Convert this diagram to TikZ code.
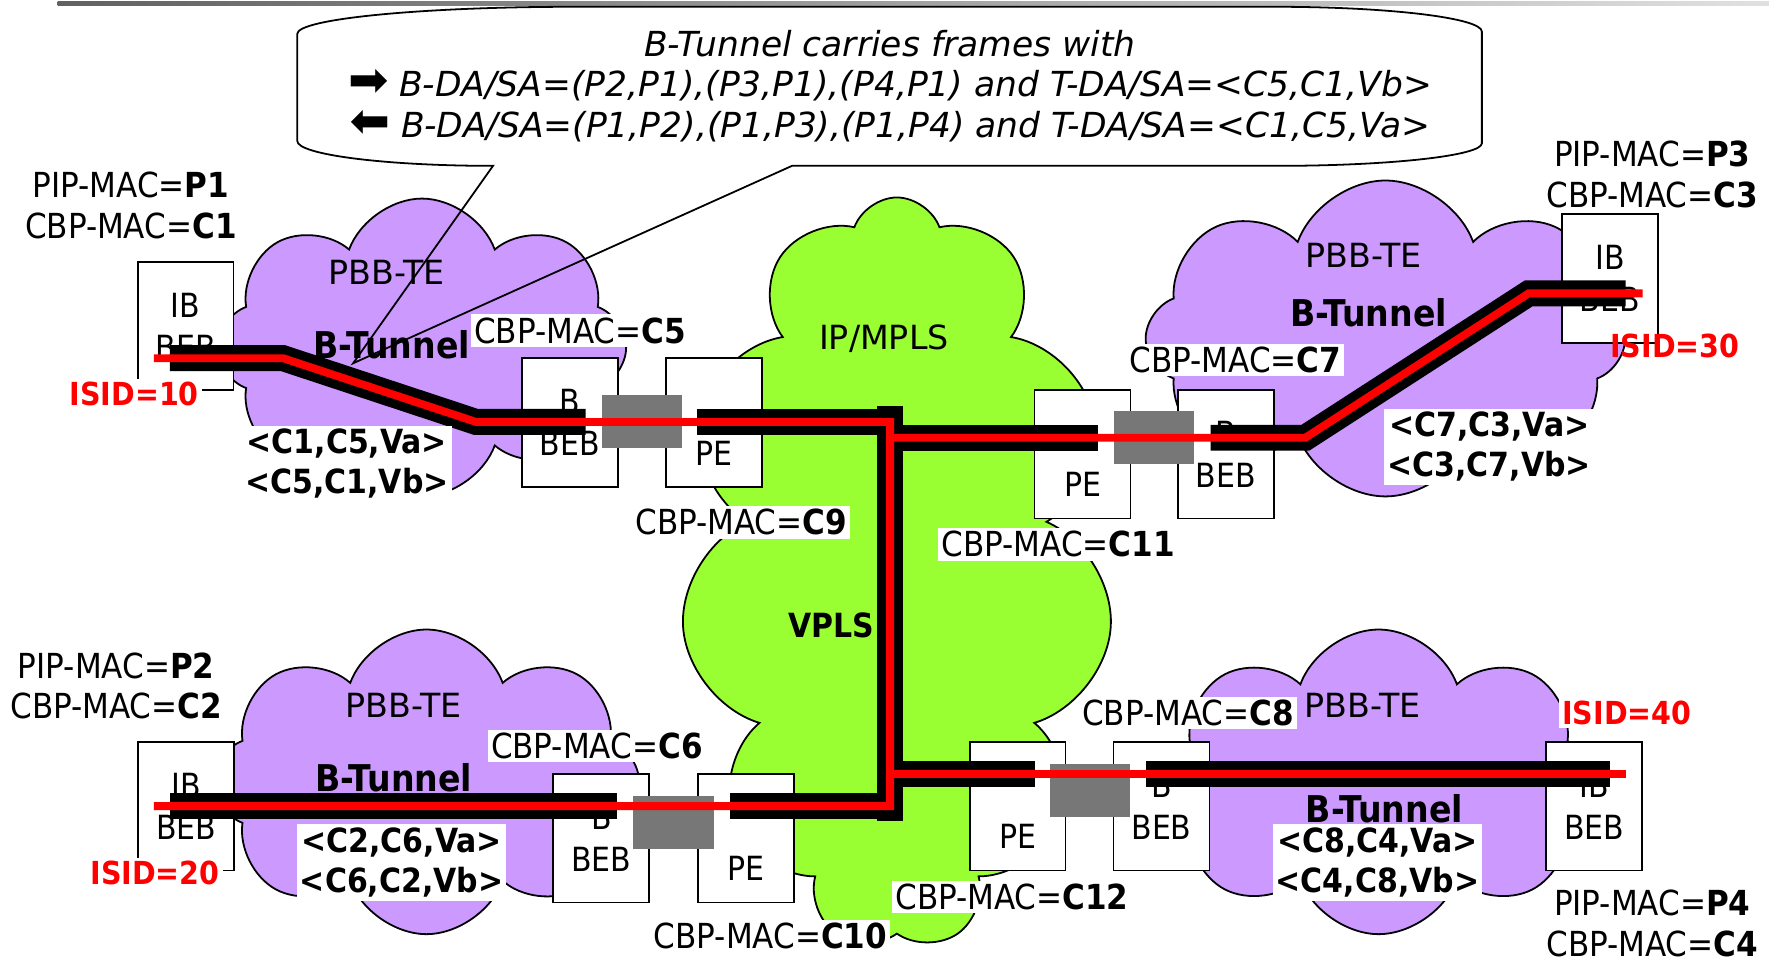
\documentclass[tikz,border=0pt]{standalone}
\usepackage{fontspec}
\usepackage{graphicx}
\setmainfont{DejaVu Sans Condensed}
\newfontfamily\wideFont{DejaVu Sans}
\usetikzlibrary{shapes.symbols}
\definecolor{pbbviolet}{RGB}{204,153,255}
\definecolor{mplsgreen}{RGB}{153,255,51}
\definecolor{portgrey}{RGB}{119,119,119}
\definecolor{isidred}{RGB}{255,0,0}
\newcommand{\lblfont}{\fontsize{8.7}{10.2}\selectfont}
\newcommand{\vidfont}{\fontsize{8.4}{10.2}\selectfont\bfseries}
\newcommand{\fwdarrow}{{\upshape\scalebox{1.4}{➡}}}
\newcommand{\bwdarrow}{{\upshape\scalebox{-1.4}[1.4]{➡}}}
\begin{document}
\begin{tikzpicture}[x=0.1mm,y=-0.1mm,
  lbl/.style={inner sep=0.8pt,font=\lblfont,align=center},
  wlbl/.style={lbl,fill=white},
  boldlbl/.style={font=\vidfont},
  tunlbl/.style={lbl,font=\fontsize{9.3}{11}\selectfont\bfseries},
  cloudlbl/.style={lbl,font=\wideFont\fontsize{8.4}{10.2}\selectfont},
  isid/.style={lbl,font=\fontsize{8}{10}\selectfont\bfseries,text=isidred},
  pbb/.style={cloud,cloud puffs=8,cloud puff arc=140,cloud ignores aspect,draw,line width=0.45pt,fill=pbbviolet,inner sep=0},
  box/.style={draw,line width=0.45pt,fill=white,minimum width=8.5mm,minimum height=11.4mm,inner sep=0,align=center,font=\fontsize{8.4}{10.5}\selectfont},
  pebox/.style={box,label={[font=\fontsize{8.4}{10.5}\selectfont,yshift=-2.7mm]center:PE}},
  port/.style={fill=portgrey,minimum width=7.1mm,minimum height=4.7mm,inner sep=0},
  tunnel/.style={line width=2.3mm},
  tag/.style={isidred,line width=0.7mm}]
  \useasboundingbox (0,0) rectangle (1568,853);
  \shade[left color=black!62,right color=black!12] (51,1) rectangle (1568,4.5);

  \node[pbb,minimum width=36.2mm,minimum height=26.4mm] (pbb1) at (374,308) {};
  \node[pbb,minimum width=42.5mm,minimum height=28mm] (pbb2) at (1228,300) {};
  \node[pbb,minimum width=37.7mm,minimum height=27mm] (pbb3) at (378,693) {};
  \node[pbb,minimum width=38.5mm,minimum height=27mm] (pbb4) at (1222,693) {};
  \node[cloud,cloud puffs=11,cloud puff arc=140,cloud ignores aspect,draw,line width=0.45pt,fill=mplsgreen,inner sep=0,minimum width=38.3mm,minimum height=66.6mm] (mpls) at (795,508) {};

  \node[box] (ib1) at (164.5,289) {IB\\BEB};
  \node[box] (beb5) at (505,374.5) {B\\BEB}; \node[pebox] (pe9) at (633,374.5) {};
  \node[pebox] (pe11) at (959.5,402.5) {}; \node[box] (beb7) at (1086.5,402.5) {B\\BEB};
  \node[box] (ib3) at (1427,247) {IB\\BEB};
  \node[box] (ib2) at (165,714.5) {IB\\BEB};
  \node[box] (beb6) at (533,743) {B\\BEB}; \node[pebox] (pe10) at (661,743) {};
  \node[pebox] (pe12) at (902,714.5) {}; \node[box] (beb8) at (1029.5,714.5) {B\\BEB};
  \node[box] (ib4) at (1413,714.5) {IB\\BEB};

  \node[port] (port1) at (569,374) {}; \node[port] (port2) at (1023,388) {};
  \node[port] (port3) at (597,729) {}; \node[port] (port4) at (966,700.5) {};

  \coordinate (w1) at (136.5,317.5); \coordinate (a1) at (150.6,317.5);
  \coordinate (k1) at (251,317.5); \coordinate (k2) at (422,374);
  \coordinate (a2) at (519,374); \coordinate (a3) at (618,374);
  \coordinate (j1) at (789,374); \coordinate (j2) at (789,388);
  \coordinate (j3) at (789,686); \coordinate (j4) at (789,714.5);
  \coordinate (vtop) at (789,360); \coordinate (vbot) at (789,728);
  \coordinate (a4) at (973.5,388); \coordinate (a5) at (1073,388);
  \coordinate (k3) at (1157,388); \coordinate (k4) at (1355,260);
  \coordinate (a6) at (1441,260); \coordinate (w2) at (1456,260);
  \coordinate (a7) at (150.6,714.5); \coordinate (a8) at (547,714.5);
  \coordinate (a9) at (647,714.5); \coordinate (w3) at (136.5,714.5);
  \coordinate (a10) at (917,686); \coordinate (a11) at (1016,686);
  \coordinate (a12) at (1427,686); \coordinate (w4) at (1441,686);

  \draw[tunnel] (a1) -- (k1) -- (k2) -- (a2);
  \draw[tunnel] (a3) -- (j1); \draw[tunnel] (vtop) -- (vbot);
  \draw[tunnel] (j2) -- (a4); \draw[tunnel] (a5) -- (k3) -- (k4) -- (a6);
  \draw[tunnel] (a7) -- (a8); \draw[tunnel] (a9) -- (j4);
  \draw[tunnel] (j3) -- (a10); \draw[tunnel] (a11) -- (a12);
  \draw[tag] (w1) -- (k1) -- (k2) -- (j1) -- (j4) -- (w3);
  \draw[tag] (j2) -- (k3) -- (k4) -- (w2);
  \draw[tag] (j3) -- (w4);

  \node[lbl] (macp1) at (116,182) {PIP-MAC=\textbf{P1}\\CBP-MAC=\textbf{C1}};
  \node[cloudlbl] (pbbtxt1) at (342.5,241) {PBB-TE};
  \node[tunlbl] (btun1) at (347,306) {B-Tunnel};
  \node[wlbl] (macc5) at (514,293) {CBP-MAC=\textbf{C5}};
  \node[isid,fill=white] (isid10) at (119,349) {ISID=10};
  \node[wlbl,boldlbl] (vid1) at (307.5,411) {<C1,C5,Va>\\<C5,C1,Vb>};
  \node[cloudlbl] (mplstxt) at (783.5,300) {IP/MPLS};
  \node[wlbl] (macc9) at (657,463) {CBP-MAC=\textbf{C9}};
  \node[lbl,boldlbl] (vpls) at (737,554) {VPLS};
  \node[wlbl] (macc7) at (1095,319) {CBP-MAC=\textbf{C7}};
  \node[cloudlbl] (pbbtxt2) at (1208.5,226) {PBB-TE};
  \node[tunlbl] (btun2) at (1213,277) {B-Tunnel};
  \node[lbl] (macp3) at (1464.5,154.5) {PIP-MAC=\textbf{P3}\\CBP-MAC=\textbf{C3}};
  \node[isid] (isid30) at (1484.5,306.6) {ISID=30};
  \node[wlbl,boldlbl] (vid2) at (1320,396) {<C7,C3,Va>\\<C3,C7,Vb>};
  \node[wlbl] (macc11) at (938,482.5) {CBP-MAC=\textbf{C11}};
  \node[lbl] (macp2) at (103,608) {PIP-MAC=\textbf{P2}\\CBP-MAC=\textbf{C2}};
  \node[cloudlbl] (pbbtxt3) at (357.5,625) {PBB-TE};
  \node[tunlbl] (btun3) at (349,689) {B-Tunnel};
  \node[wlbl] (macc6) at (529,661) {CBP-MAC=\textbf{C6}};
  \node[isid,fill=white] (isid20) at (137.4,774) {ISID=20};
  \node[wlbl,boldlbl] (vid3) at (356,764.5) {<C2,C6,Va>\\<C6,C2,Vb>};
  \node[wlbl] (macc10) at (683,830) {CBP-MAC=\textbf{C10}};
  \node[wlbl] (macc8) at (1053,632) {CBP-MAC=\textbf{C8}};
  \node[cloudlbl] (pbbtxt4) at (1208,625) {PBB-TE};
  \node[isid,fill=white] (isid40) at (1442,632) {ISID=40};
  \node[tunlbl] (btun4) at (1227,717) {B-Tunnel};
  \node[wlbl,boldlbl] (vid4) at (1221,764.5) {<C8,C4,Va>\\<C4,C8,Vb>};
  \node[wlbl] (macc12) at (897,795) {CBP-MAC=\textbf{C12}};
  \node[lbl] (macp4) at (1464.5,818.5) {PIP-MAC=\textbf{P4}\\CBP-MAC=\textbf{C4}};

  \coordinate (tip) at (313,322);
  \fill[white] (263.5,30) .. controls (263.5,16.7) and (374,6) .. (509,6) -- (1130,6) .. controls (1231,6) and (1313.5,15.9) .. (1313.5,28) -- (1313.5,127) .. controls (1313.5,138) and (1232,147) .. (1132,147) -- (437,147) .. controls (341,147) and (263.5,137) .. (263.5,125) -- cycle;
  \draw[line width=0.45pt] (702,147) -- (1132,147) .. controls (1232,147) and (1313.5,138) .. (1313.5,127) -- (1313.5,28) .. controls (1313.5,15.9) and (1231,6) .. (1130,6) -- (509,6) .. controls (374,6) and (263.5,16.7) .. (263.5,30) -- (263.5,125) .. controls (263.5,137) and (341,147) .. (437,147) -- (tip) -- cycle;
  \node[align=center,inner sep=0,font=\wideFont\itshape\fontsize{8.7}{10.2}\selectfont] (calltxt) at (789,76) {B-Tunnel carries frames with\\\fwdarrow\ B-DA/SA=(P2,P1),(P3,P1),(P4,P1) and T-DA/SA=<C5,C1,Vb>\\\bwdarrow\ B-DA/SA=(P1,P2),(P1,P3),(P1,P4) and T-DA/SA=<C1,C5,Va>};
\end{tikzpicture}
\end{document}
